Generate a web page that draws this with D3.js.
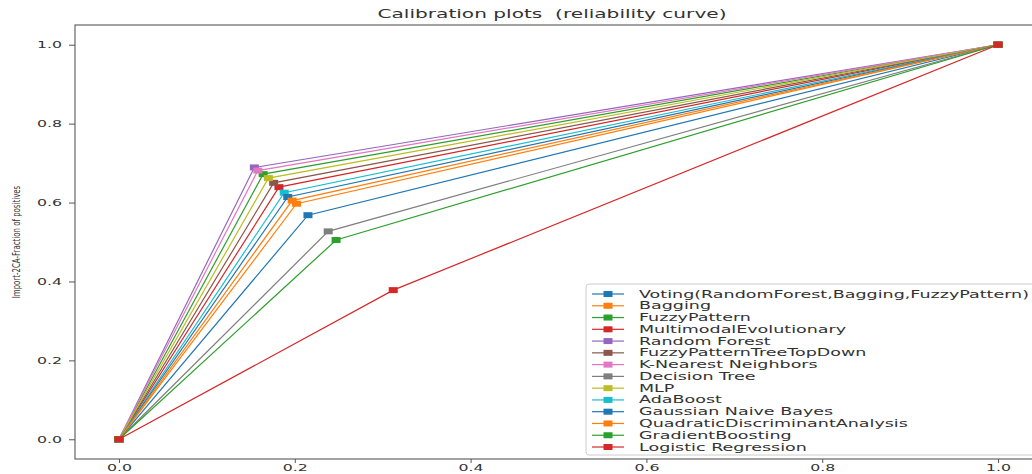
<!DOCTYPE html>
<html>
<head>
<meta charset="utf-8">
<script src="https://cdn.jsdelivr.net/npm/d3@7"></script>
<style>
body { margin: 0; background: #fff; }
text { font-family: "DejaVu Sans", sans-serif; fill: #333; }
</style>
</head>
<body>
<script>
const width = 1032;
const height = 474;

// classifiers, in plotting order
const names = [
  "Voting(RandomForest,Bagging,FuzzyPattern)",
  "Bagging",
  "FuzzyPattern",
  "MultimodalEvolutionary",
  "Random Forest",
  "FuzzyPatternTreeTopDown",
  "K-Nearest Neighbors",
  "Decision Tree",
  "MLP",
  "AdaBoost",
  "Gaussian Naive Bayes",
  "QuadraticDiscriminantAnalysis",
  "GradientBoosting",
  "Logistic Regression"
];
// mean predicted value of the middle bin
const meanPredicted = [0.215, 0.202, 0.164, 0.182, 0.154, 0.176, 0.158, 0.238, 0.170, 0.188, 0.192, 0.197, 0.247, 0.312];
// fraction of positives of the middle bin
const fractionPositives = [0.568, 0.597, 0.672, 0.639, 0.689, 0.650, 0.681, 0.527, 0.662, 0.625, 0.614, 0.605, 0.505, 0.378];
const xTicks = [0.0, 0.2, 0.4, 0.6, 0.8, 1.0];
const yTicks = [0.0, 0.2, 0.4, 0.6, 0.8, 1.0];
const colors = ["#1f77b4", "#ff7f0e", "#2ca02c", "#d62728", "#9467bd",
                "#8c564b", "#e377c2", "#7f7f7f", "#bcbd22", "#17becf"];

const SX = 1.75; // picture is stretched sideways
const pLeft = 75, pTop = 25, pRight = 1042, pBottom = 459;

const x = d3.scaleLinear().domain([-0.05, 1.05]).range([pLeft, pRight]);
const y = d3.scaleLinear().domain([-0.05, 1.05]).range([pBottom, pTop]);

const svg = d3.select("body")
  .append("svg")
  .attr("width", width)
  .attr("height", height);

svg.append("defs").append("clipPath").attr("id", "clip")
  .append("rect")
  .attr("x", pLeft).attr("y", pTop)
  .attr("width", pRight - pLeft).attr("height", pBottom - pTop);

const series = names.map(function(n, i) {
  return {
    name: n,
    color: colors[i % colors.length],
    points: [[0, 0], [meanPredicted[i], fractionPositives[i]], [1, 1]]
  };
});

const line = d3.line()
  .x(function(d) { return x(d[0]); })
  .y(function(d) { return y(d[1]); });

const plot = svg.append("g").attr("clip-path", "url(#clip)");

series.forEach(function(s) {
  const g = plot.append("g");
  g.append("path")
    .attr("d", line(s.points))
    .attr("fill", "none")
    .attr("stroke", s.color)
    .attr("stroke-width", 1.2);
  g.selectAll("rect")
    .data(s.points)
    .enter().append("rect")
    .attr("x", function(d) { return x(d[0]) - 4.5; })
    .attr("y", function(d) { return y(d[1]) - 3; })
    .attr("width", 9)
    .attr("height", 6)
    .attr("fill", s.color);
});

// frame
svg.append("rect")
  .attr("x", pLeft).attr("y", pTop)
  .attr("width", pRight - pLeft).attr("height", pBottom - pTop)
  .attr("fill", "none")
  .attr("stroke", "#666")
  .attr("stroke-width", 1.2);

// x axis
const xAxis = svg.append("g")
  .attr("transform", "translate(0," + pBottom + ")")
  .call(d3.axisBottom(x).tickValues(xTicks).tickFormat(d3.format(".1f")).tickSize(4).tickSizeOuter(0));
xAxis.select(".domain").remove();
xAxis.selectAll("line").attr("stroke", "#555");
xAxis.selectAll("text")
  .attr("y", 9)
  .attr("dy", "0.32em")
  .attr("transform", "scale(" + SX + ",1)")
  .attr("x", 0)
  .style("font-size", "9px");

// y axis
const yAxis = svg.append("g")
  .attr("transform", "translate(" + pLeft + ",0)")
  .call(d3.axisLeft(y).tickValues(yTicks).tickFormat(d3.format(".1f")).tickSize(6).tickSizeOuter(0));
yAxis.select(".domain").remove();
yAxis.selectAll("line").attr("stroke", "#555");
yAxis.selectAll("text")
  .attr("x", -13 / SX)
  .attr("transform", "scale(" + SX + ",1)")
  .style("font-size", "9px");

// title
svg.append("text")
  .attr("transform", "translate(552,18) scale(" + SX + ",1)")
  .attr("text-anchor", "middle")
  .style("font-size", "11.5px")
  .style("white-space", "pre")
  .text("Calibration plots  (reliability curve)");

// y label
svg.append("text")
  .attr("transform", "translate(20," + ((pTop + pBottom) / 2) + ") scale(1.55,1) rotate(-90)")
  .attr("text-anchor", "middle")
  .style("font-size", "7px")
  .text("Import-2CA-Fraction of positives");

// legend
const legX = 586, legY = 284, rowH = 11.77;
const legend = svg.append("g");
legend.append("rect")
  .attr("x", legX).attr("y", legY)
  .attr("width", 452).attr("height", 171)
  .attr("rx", 3)
  .attr("fill", "#fff")
  .attr("fill-opacity", 0.8)
  .attr("stroke", "#ccc");

const rows = legend.selectAll("g.row")
  .data(series)
  .enter().append("g")
  .attr("class", "row")
  .attr("transform", function(d, i) { return "translate(" + legX + "," + (legY + 10 + i * rowH) + ")"; });

rows.append("line")
  .attr("x1", 6).attr("x2", 38)
  .attr("stroke", function(d) { return d.color; })
  .attr("stroke-width", 1.2);
rows.append("rect")
  .attr("x", 17.5).attr("y", -3)
  .attr("width", 9).attr("height", 6)
  .attr("fill", function(d) { return d.color; });
rows.append("text")
  .attr("transform", "translate(53,0) scale(" + SX + ",1)")
  .attr("dy", "0.35em")
  .style("font-size", "10px")
  .text(function(d) { return d.name; });
</script>
</body>
</html>
